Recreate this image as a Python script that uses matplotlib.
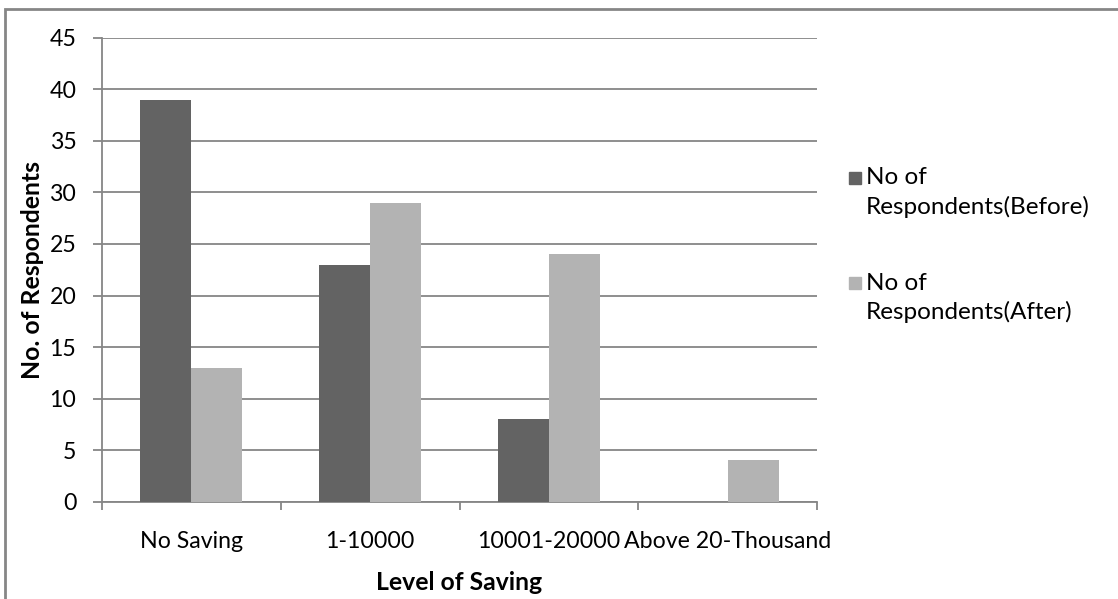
import matplotlib
matplotlib.use("Agg")
import matplotlib.pyplot as plt
from matplotlib.patches import Rectangle
import numpy as np

# savings levels and respondent counts
categories = ["No Saving", "1-10000", "10001-20000", "Above 20-Thousand"]
before = [39, 23, 8, 0]
after = [13, 29, 24, 4]
series_names = ["No of\nRespondents(Before)", "No of\nRespondents(After)"]
y_ticks = list(range(0, 50, 5))

DARK = "#636363"
LIGHT = "#b3b3b3"
GRID = "#868686"
FS = 16.7       # tick labels
FS_LEG = 17.5   # legend text
FS_LAB = 17.8   # axis titles

plt.rcParams["font.family"] = ["Lato", "DejaVu Sans"]

W, H = 1118, 599
fig = plt.figure(figsize=(W / 100, H / 100), dpi=100)
ax = fig.add_axes([102 / W, 1 - 501.7 / H, (817 - 102) / W, (501.7 - 37.8) / H])

x = np.arange(len(categories))
bw = 0.285
ax.bar(x - bw / 2, before, width=bw, color=DARK, zorder=3)
ax.bar(x + bw / 2, after, width=bw, color=LIGHT, zorder=3)

ax.set_xlim(-0.5, len(categories) - 0.5)
ax.set_ylim(0, 45)
ax.set_yticks(y_ticks)
ax.set_yticklabels([str(v) for v in y_ticks], fontsize=FS)
ax.yaxis.grid(True, color=GRID, linewidth=1.3, zorder=0)
ax.set_axisbelow(True)

# category boundaries get the tick marks, centres get the labels
ax.set_xticks(np.arange(-0.5, len(categories), 1.0))
ax.set_xticklabels([])
ax.set_xticks(x, minor=True)
ax.set_xticklabels(categories, minor=True, fontsize=FS)
ax.tick_params(axis="x", which="major", length=6, width=1.3, color=GRID, direction="out")
ax.tick_params(axis="x", which="minor", length=0, pad=21)
ax.tick_params(axis="y", length=6.5, width=1.3, color=GRID, pad=12)

for side in ["top", "right"]:
    ax.spines[side].set_visible(False)
for side in ["left", "bottom"]:
    ax.spines[side].set_color(GRID)
    ax.spines[side].set_linewidth(1.3)

fig.text(33 / W, 1 - 270 / H, "No. of Respondents", rotation=90, fontsize=FS_LAB,
         fontweight="bold", ha="center", va="center")
fig.text(459.5 / W, 1 - 582 / H, "Level of Saving", fontsize=FS_LAB,
         fontweight="bold", ha="center", va="center")

# legend to the right of the plot
for name, color, ytop in zip(series_names, [DARK, LIGHT], [178, 283]):
    fig.patches.append(Rectangle((849 / W, 1 - (ytop + 6) / H), 12 / W, 12 / H,
                                 transform=fig.transFigure, color=color))
    first, second = name.split("\n")
    fig.text(866 / W, 1 - ytop / H, first, fontsize=FS_LEG, ha="left", va="center")
    fig.text(866 / W, 1 - (ytop + 29) / H, second, fontsize=FS_LEG, ha="left", va="center")

# chart frame
fig.patches.append(Rectangle((5 / W, -0.05), 1.1, 1 - 9 / H + 0.05,
                             transform=fig.transFigure, fill=False,
                             edgecolor=GRID, linewidth=2))

fig.savefig("out.png", dpi=100, facecolor="white")
